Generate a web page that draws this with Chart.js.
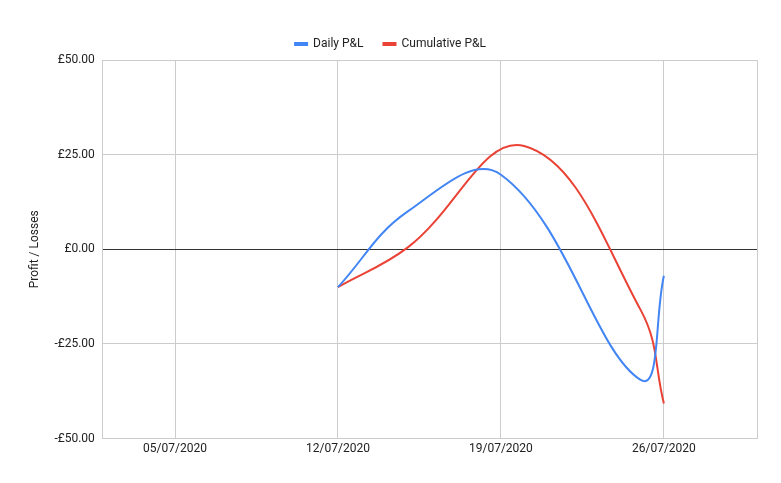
<!DOCTYPE html>
<html><head><meta charset="utf-8">
<script src="https://cdn.jsdelivr.net/npm/chart.js@4"></script>
<style>body{margin:0;background:#fff}#wrap{width:781px;height:483px}</style>
</head><body><div id="wrap"><canvas id="c"></canvas></div>
<script>
// day of July 2020
const dailyDays = [12, 15, 19, 25, 26];
const dailyPL = [-10, 10, 19.7, -34.5, -7];
const cumDays = [12, 15, 20, 25, 26];
const cumPL = [-10, 0.5, 27.3, -16, -40.7];
const tickDays = [5, 12, 19, 26];
const X_MIN = 1.9, X_MAX = 30;

const pts = (xs, ys) => xs.map((x, i) => ({ x, y: ys[i] }));

new Chart(document.getElementById("c"), {
  type: "line",
  data: {
    datasets: [
      { label: "Daily P&L", data: pts(dailyDays, dailyPL), borderColor: "#4285f4", backgroundColor: "#4285f4", borderWidth: 2, pointRadius: 0, tension: 0.4 },
      { label: "Cumulative P&L", data: pts(cumDays, cumPL), borderColor: "#ea4335", backgroundColor: "#ea4335", borderWidth: 2, pointRadius: 0, tension: 0.4 }
    ]
  },
  options: {
    responsive: true, maintainAspectRatio: false, animation: false,
    layout: { padding: { left: 24, right: 24, top: 18, bottom: 24 } },
    plugins: {
      legend: { position: "top", labels: { font: { family: "Roboto", size: 12 }, color: "#222", boxWidth: 12, boxHeight: 2, padding: 20 } },
      tooltip: { enabled: false }
    },
    scales: {
      x: {
        type: "linear", min: X_MIN, max: X_MAX,
        afterBuildTicks: ax => { ax.ticks = [X_MIN, ...tickDays, X_MAX].map(v => ({ value: v })); },
        ticks: { autoSkip: false, maxRotation: 0, color: "#222", font: { family: "Roboto", size: 12 },
          callback: v => tickDays.includes(v) ? String(v).padStart(2, "0") + "/07/2020" : "" },
        grid: { color: "#cccccc", drawTicks: false },
        border: { display: false }
      },
      y: {
        min: -50, max: 50,
        ticks: { stepSize: 25, color: "#222", padding: 8, font: { family: "Roboto", size: 12 },
          callback: v => (v < 0 ? "-£" : "£") + Math.abs(v).toFixed(2) },
        grid: { color: c => c.tick.value === 0 ? "#333" : "#cccccc", drawTicks: false },
        border: { display: false },
        title: { display: true, text: "Profit / Losses", color: "#222", font: { family: "Roboto", size: 12 } }
      }
    }
  }
});
</script></body></html>
